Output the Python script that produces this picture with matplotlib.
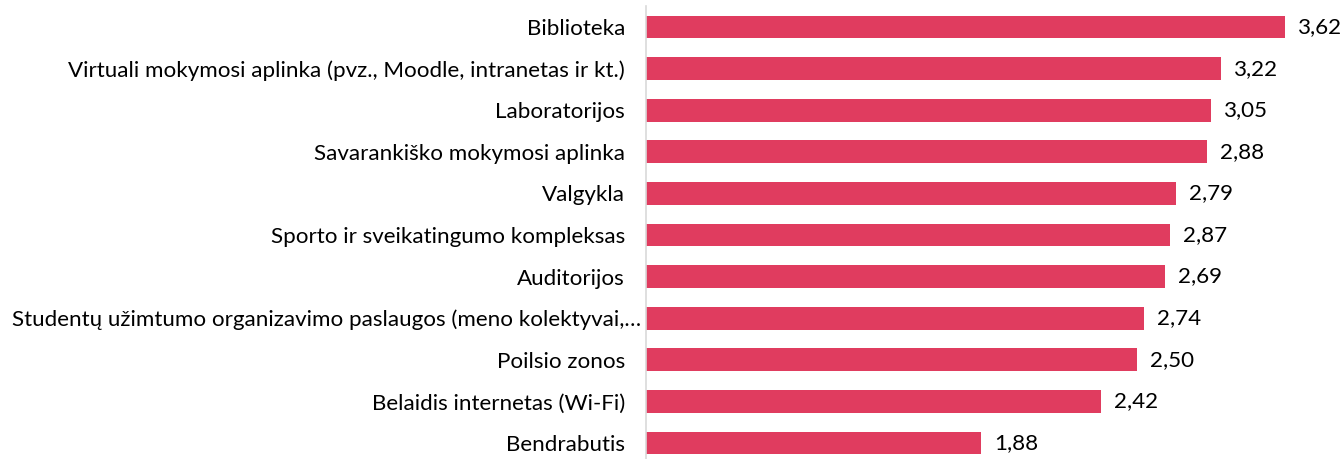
import matplotlib
matplotlib.use("Agg")
import matplotlib.pyplot as plt
from matplotlib.transforms import ScaledTranslation

categories = [
    "Biblioteka",
    "Virtuali mokymosi aplinka (pvz., Moodle, intranetas ir kt.)",
    "Laboratorijos",
    "Savarankiško mokymosi aplinka",
    "Valgykla",
    "Sporto ir sveikatingumo kompleksas",
    "Auditorijos",
    "Studentų užimtumo organizavimo paslaugos (meno kolektyvai,…",
    "Poilsio zonos",
    "Belaidis internetas (Wi-Fi)",
    "Bendrabutis",
]
# bar lengths as drawn in the reference
bar_values = [3.62, 3.26, 3.20, 3.18, 3.00, 2.97, 2.94, 2.82, 2.78, 2.58, 1.90]
# value labels as printed in the reference
value_labels = ["3,62", "3,22", "3,05", "2,88", "2,79", "2,87", "2,69", "2,74", "2,50", "2,42", "1,88"]

plt.rcParams['font.family'] = ['Lato', 'DejaVu Sans']

W, H = 1343, 459
fig = plt.figure(figsize=(W / 100, H / 100), dpi=100)
ax = fig.add_axes([646 / W, 0, 697 / W, 453 / H])

ypos = list(range(len(categories)))
ax.barh(ypos, bar_values, height=0.55, color="#E03C5F", edgecolor="none")
ax.set_ylim(10.385, -0.505)
ax.set_xlim(0, 3.949)

FS = 16.1
for y, v, lab in zip(ypos, bar_values, value_labels):
    ax.annotate(lab, (v, y), xytext=(13, 0), textcoords="offset pixels",
                ha="left", va="center", fontsize=FS, color="#000000")

ax.set_yticks(ypos)
ax.set_yticklabels(categories, fontsize=FS, color="#000000")
ax.tick_params(axis="y", length=0, pad=15)
# the truncated label sits closer to the axis in the reference
lbl = ax.get_yticklabels()[7]
lbl.set_transform(lbl.get_transform() + ScaledTranslation(16 / 100, 0, fig.dpi_scale_trans))

ax.set_xticks([])
for s in ["top", "right", "bottom"]:
    ax.spines[s].set_visible(False)
ax.spines["left"].set_color("#D9D9D9")
ax.spines["left"].set_linewidth(1.2)

fig.savefig("out.png", dpi=100)
